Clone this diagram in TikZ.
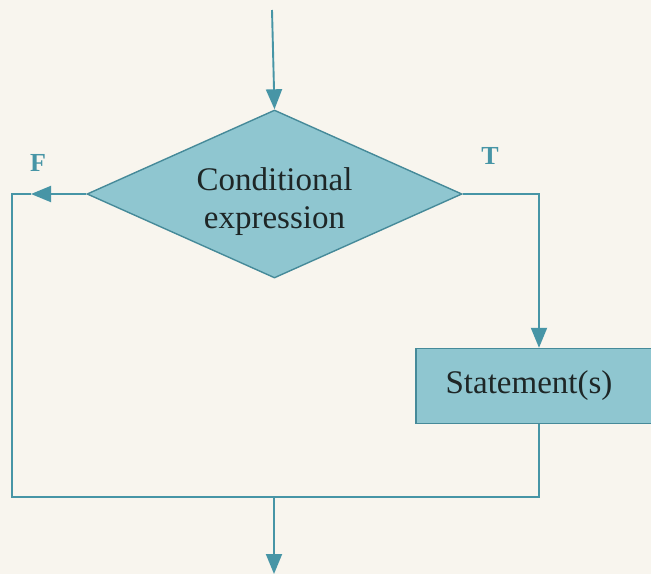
\documentclass[tikz,border=0pt]{standalone}
\usepackage{fontspec}
\setmainfont{Liberation Serif}
\usetikzlibrary{shapes.geometric,arrows.meta}
\definecolor{paper}{HTML}{F8F5EE}
\definecolor{flowline}{HTML}{4795A6}
\definecolor{boxfill}{HTML}{8FC6D0}
\definecolor{boxedge}{HTML}{468A99}
\definecolor{ink}{HTML}{1E2626}
\tikzset{
  flow/.style={draw=flowline, line width=1.9pt},
  tip/.style={-{Triangle[length=20pt,width=16pt]}},
  decision/.style={diamond, aspect=2.23, draw=boxedge, line width=1.4pt, fill=boxfill,
    minimum width=375pt, minimum height=168pt, inner sep=0pt, text=ink,
    font=\fontsize{33}{38}\selectfont, align=center},
  process/.style={rectangle, draw=boxedge, line width=1.4pt, fill=boxfill,
    minimum width=246pt, minimum height=75pt, inner sep=0pt, text=ink,
    font=\fontsize{33}{38}\selectfont},
  flag/.style={text=flowline, font=\fontsize{26}{30}\selectfont\bfseries}
}
\begin{document}
\begin{tikzpicture}[x=1pt,y=-1pt]
  \fill[paper] (0,0) rectangle (651,574);
  \useasboundingbox (0,0) rectangle (651,574);
  \node[decision] (cond) at (274.5,194) {\rule{0pt}{38pt}Conditional\\expression};
  \node[process] (stmt) at (539,386) {Statement(s)\hspace*{20pt}};
  \coordinate (start) at (272,10);
  \coordinate (fa) at (31,194);
  \coordinate (fl) at (12,194);
  \coordinate (bl) at (12,497);
  \coordinate (bm) at (274,497);
  \coordinate (br) at (539,497);
  \coordinate (stop) at (274,574);
  \node[flag] (F) at (38,163) {F};
  \node[flag] (T) at (490,156) {T};
  \draw[flow,tip] (start) -- (cond.north);
  \draw[flow,tip] (cond.east) -| (stmt.north);
  \draw[flow,tip] (cond.west) -- (fa);
  \draw[flow] (fa) -- (fl) -- (bl) -- (br) -- (stmt.south);
  \draw[flow,tip] (bm) -- (stop);
\end{tikzpicture}
\end{document}
